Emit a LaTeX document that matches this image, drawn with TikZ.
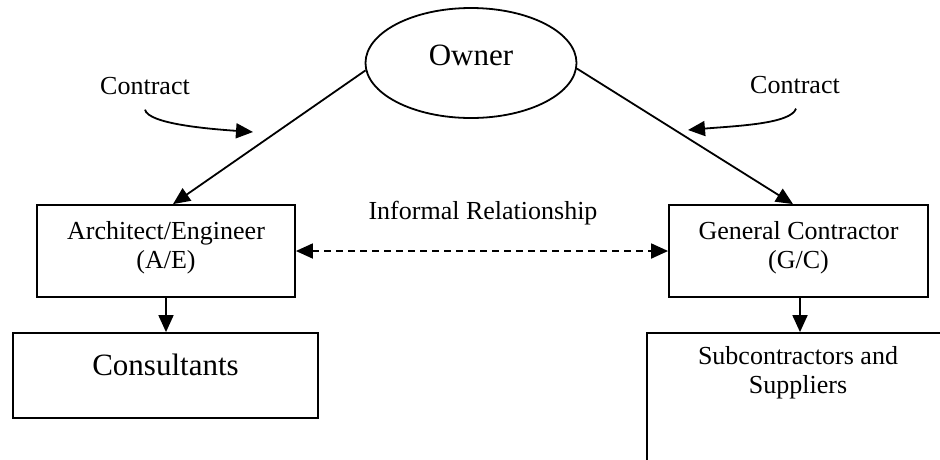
\documentclass[tikz,border=0pt]{standalone}
\usepackage{fontspec}
\setmainfont{Liberation Serif}
\usetikzlibrary{shapes.geometric,arrows.meta}
\begin{document}
\begin{tikzpicture}[x=1pt,y=-1pt,
  line width=1.8pt,
  txt/.style={font=\fontsize{26}{29}\selectfont, align=center, inner sep=0pt},
  bigtxt/.style={font=\fontsize{31}{34}\selectfont, inner sep=0pt},
  box/.style={draw, rectangle, inner sep=0pt},
  arr/.style={-{Triangle[length=17pt,width=15pt]}},
  darr/.style={{Triangle[length=17pt,width=15pt]}-{Triangle[length=17pt,width=15pt]}, dash pattern=on 7pt off 5pt}
]
\useasboundingbox (0,0) rectangle (940,459);

% Owner
\node[draw, ellipse, minimum width=211pt, minimum height=110pt, inner sep=0pt] (owner) at (471,63) {};
\node[bigtxt] (ownertxt) at (471,55) {Owner};

% Architect/Engineer and General Contractor
\node[box, minimum width=258pt, minimum height=92pt] (ae) at (166,251) {};
\node[txt] (aetxt) at (166,247.5) {Architect/Engineer\\(A/E)};
\node[box, minimum width=259pt, minimum height=92pt] (gc) at (798.5,251) {};
\node[txt] (gctxt) at (798.5,247.5) {General Contractor\\(G/C)};

% Consultants
\node[box, minimum width=305pt, minimum height=85pt] (cons) at (165.5,375.5) {};
\node[bigtxt] (constxt) at (165.5,365) {Consultants};

% Subcontractors box runs off the right and bottom edges
\begin{scope}
  \clip (0,0) rectangle (940,459);
  \node[box, minimum width=302pt, minimum height=137pt] (subs) at (798,401.5) {};
\end{scope}
\node[txt] (substxt) at (798,373) {Subcontractors and\\Suppliers};

% Contract labels
\node[txt] (c1) at (145,86) {Contract};
\node[txt] (c2) at (795,85) {Contract};
\node[txt] (inf) at (483,213) {Informal Relationship};

% Contract lines
\draw[arr] (owner.184) -- ([xshift=7pt]ae.north);
\draw[arr] (owner.-3) -- ([xshift=-5.5pt]gc.north);

% Pointers from the Contract labels
\coordinate (k1) at (253,132);
\coordinate (k2) at (688,130);
\draw[arr] ([yshift=-14pt]c1.south) .. controls (148,124) and (210,129) .. (k1);
\draw[arr] ([yshift=-14pt,xshift=1pt]c2.south) .. controls (791,124) and (735,126) .. (k2);

% Informal relationship
\draw[darr] (ae.east) -- (gc.east -| gc.west);

% Downward links
\draw[arr] (ae.south) -- (ae.south |- cons.north);
\draw[arr] ([xshift=1.5pt]gc.south) -- ([xshift=1.5pt]gc.south |- subs.north);
\end{tikzpicture}
\end{document}
